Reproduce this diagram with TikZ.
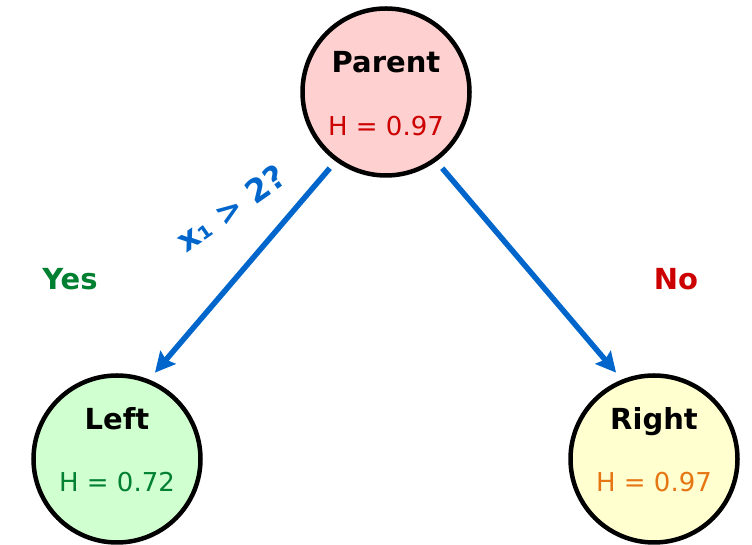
\documentclass[tikz,border=0pt]{standalone}
\usepackage{fontspec}
\setmainfont{DejaVu Sans}
\usepackage{tikz}
\usetikzlibrary{arrows.meta, calc}
\definecolor{splitBlue}{RGB}{0, 102, 204}
\definecolor{parentFill}{RGB}{255, 208, 208}
\definecolor{leftFill}{RGB}{208, 255, 208}
\definecolor{rightFill}{RGB}{255, 255, 208}
\definecolor{yesGreen}{RGB}{0, 128, 48}
\definecolor{noRed}{RGB}{204, 0, 0}
\definecolor{hOrange}{RGB}{230, 118, 20}

\begin{document}
\begin{tikzpicture}[x=1pt, y=1pt,
  treenode/.style={circle, draw=black, line width=4.5pt, minimum size=167pt,
                   inner sep=0pt},
  headtext/.style={anchor=base, font=\fontsize{29}{31}\selectfont\bfseries},
  entropy/.style={anchor=base, font=\fontsize{26}{28}\selectfont},
  answer/.style={anchor=base, font=\fontsize{29}{31}\selectfont\bfseries},
  branch/.style={draw=splitBlue, line width=5.5pt,
                 -{Stealth[length=20pt, width=20pt, inset=3pt]},
                 shorten <=9pt, shorten >=9pt}]

  \useasboundingbox (0,0) rectangle (752,545);

  % ---- Nodes ----
  \node[treenode, fill=parentFill] (parent) at (386,453) {};
  \node[treenode, fill=leftFill]   (left)   at (117,86)  {};
  \node[treenode, fill=rightFill]  (right)  at (654,86)  {};

  % ---- Node texts ----
  \node[headtext] (parentname) at ($(parent)+(0,19)$)  {Parent};
  \node[entropy, text=noRed] (parentH) at ($(parent)+(0,-44)$) {H = 0.97};
  \node[headtext] (leftname)   at ($(left)+(0,29)$)    {Left};
  \node[entropy, text=yesGreen] (leftH) at ($(left)+(0,-33)$) {H = 0.72};
  \node[headtext] (rightname)  at ($(right)+(0,29)$)   {Right};
  \node[entropy, text=hOrange] (rightH) at ($(right)+(0,-33)$) {H = 0.97};

  % ---- Branches ----
  \draw[branch] (parent.234) -- (left.68);
  \draw[branch] (parent.-54) -- (right.112);

  % ---- Split labels ----
  \node[rotate=35, text=splitBlue, font=\fontsize{32}{34}\selectfont\bfseries]
    (split) at (231,337) {x₁ > 2?};
  \node[answer, text=yesGreen] (yes) at (70,255)  {Yes};
  \node[answer, text=noRed]    (no)  at (676,255) {No};

\end{tikzpicture}
\end{document}
